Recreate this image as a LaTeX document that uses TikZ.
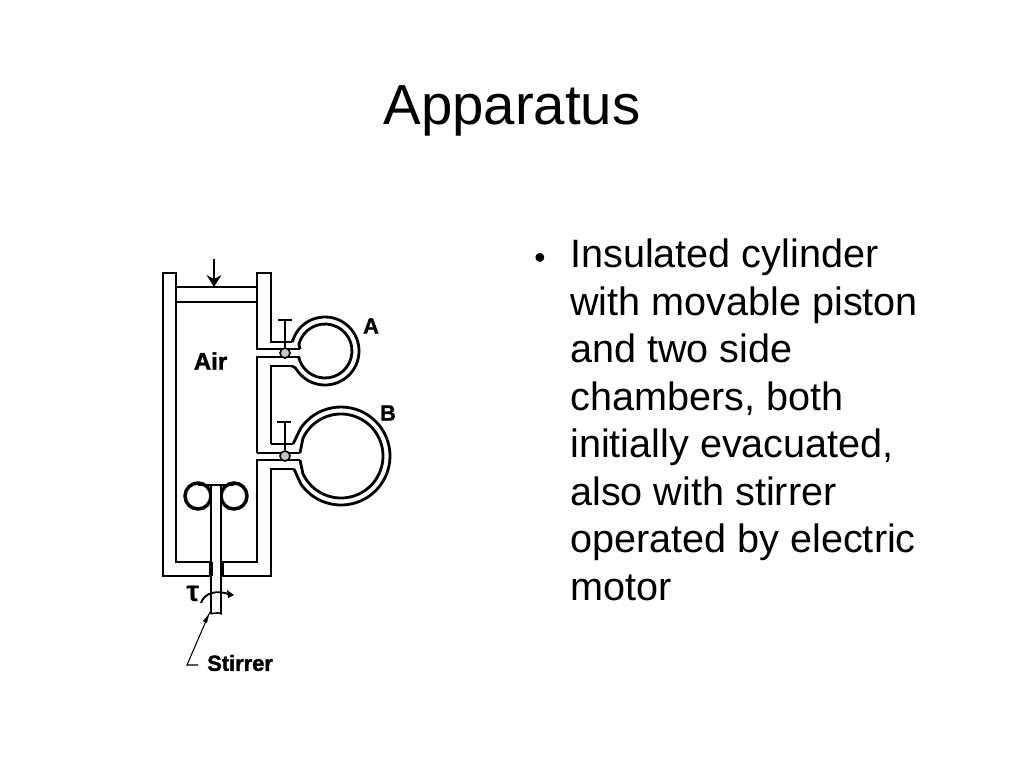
\documentclass[tikz,border=0pt]{standalone}
\usepackage{fontspec}
\setmainfont{Liberation Sans}
\newfontfamily\heavyfont[BoldFeatures={FakeBold=1.6}]{Liberation Sans}
\tikzset{
	wall/.style={black, line width=2.1pt},
	thin line/.style={black, line width=0.8pt},
	small label/.style={font=\fontsize{16.4}{20}\selectfont\heavyfont\bfseries}
}
\begin{document}
\begin{tikzpicture}[x=0.75pt,y=0.75pt]
	\tikzstyle{every node}+=[inner sep=0pt]
	\useasboundingbox (0,0) rectangle (1024,-768);
	\node (title) at (512,-111) {\fontsize{42.3}{50}\selectfont Apparatus};
	\node (bullet) at (540,-261) {\fontsize{24}{28}\selectfont\textbullet};
	\node [anchor=north west, align=left, font=\fontsize{29.7}{35.6}\selectfont] (body) at (570,-239) {Insulated cylinder\\with movable piston\\and two side\\chambers, both\\initially evacuated,\\also with stirrer\\operated by electric\\motor};
	% cylinder
	\draw [wall] (211,-576) -- (163,-576) -- (163,-273) -- (176,-273) -- (176,-562) -- (211,-562);
	\draw [wall] (221,-562) -- (257,-562) -- (257,-460) -- (300,-460);
	\draw [wall] (221,-576) -- (271,-576) -- (271,-469) -- (294,-469);
	\draw [wall] (257,-453) -- (257,-357) -- (300,-357);
	\draw [wall] (271,-444) -- (271,-366) -- (292,-366);
	\draw [wall] (300,-349) -- (257,-349) -- (257,-273) -- (271,-273) -- (271,-342) -- (292,-342);
	\draw [wall] (257,-453) -- (300,-453);
	\draw [wall] (271,-444) -- (293,-444);
	% piston
	\draw [wall] (176,-287) -- (257,-287);
	\draw [wall] (176,-302) -- (257,-302);
	\coordinate (pushtop) at (214,-259);
	\coordinate (pushtip) at (214,-287);
	\draw [wall] (pushtop) -- (pushtip);
	\fill [black] (pushtip) -- (206.5,-275) -- (214,-279) -- (221.5,-275);
	% chamber A
	\draw [wall] (292,-342) -- ([shift={(150:34)}]325,-351) arc (150:-150:34) -- (292,-366);
	\draw [wall] (300,-349) -- ([shift={(165:27)}]325,-351) arc (165:-165:27) -- (300,-357);
	% chamber B
	\draw [wall] (293,-444) -- ([shift={(145:49)}]341,-456) arc (145:-145:49) -- (294,-469);
	\draw [wall] (300,-453) -- ([shift={(155:42)}]341,-456) arc (155:-155:42) -- (300,-460);
	% valves
	\node [circle, draw=black, fill=gray!45, line width=1.2pt, minimum size=7.5pt] (valveA) at (285,-353) {};
	\node [circle, draw=black, fill=gray!45, line width=1.2pt, minimum size=7.5pt] (valveB) at (285,-456) {};
	\coordinate (stemA) at (285,-320);
	\coordinate (stemB) at (285,-422);
	\draw [wall, line width=1.5pt] (valveA) -- (stemA);
	\draw [wall, line width=1.5pt] (278,-320) -- (292,-320);
	\draw [wall, line width=1.5pt] (valveB) -- (stemB);
	\draw [wall, line width=1.5pt] (277,-422) -- (291,-422);
	% stirrer
	\draw [wall, line width=2.6pt] (198,-496) circle (13);
	\draw [wall, line width=2.6pt] (234,-496) circle (13);
	\draw [wall] (198,-485) -- (234,-485);
	\fill [white] (211,-486) rectangle (221,-611);
	\draw [wall] (211,-486) -- (211,-613);
	\draw [wall] (221,-486) -- (221,-613);
	\draw [wall, line width=3pt] (210.5,-562) -- (210.5,-576);
	\draw [wall, line width=3pt] (221.5,-562) -- (221.5,-576);
	\draw [wall, line width=1.2pt] (209,-613) .. controls (212,-615) and (218,-611) .. (222,-614);
	\draw [wall, line width=1.4pt] (201,-603) .. controls (204,-593) and (217,-589) .. (231,-595);
	\fill [black] (234,-595) -- (227,-590) -- (228,-598);
	\node (torque) at (193,-594) {\fontsize{22}{24}\selectfont\bfseries τ};
	% labels
	\node [font=\fontsize{18}{20}\selectfont\heavyfont\bfseries] (air) at (210.5,-361) {Air};
	\node [small label] (labelA) at (371,-326) {A};
	\node [small label] (labelB) at (388,-413) {B};
	\node [small label, anchor=west] (stirrer) at (207,-663) {Stirrer};
	\coordinate (leadend) at (198,-665);
	\coordinate (leadknee) at (187,-665);
	\coordinate (leadtip) at (209,-614);
	\draw [thin line] (leadend) -- (leadknee) -- (leadtip);
	\fill [black] (leadtip) -- (203,-621) -- (207,-623);
\end{tikzpicture}
\end{document}
